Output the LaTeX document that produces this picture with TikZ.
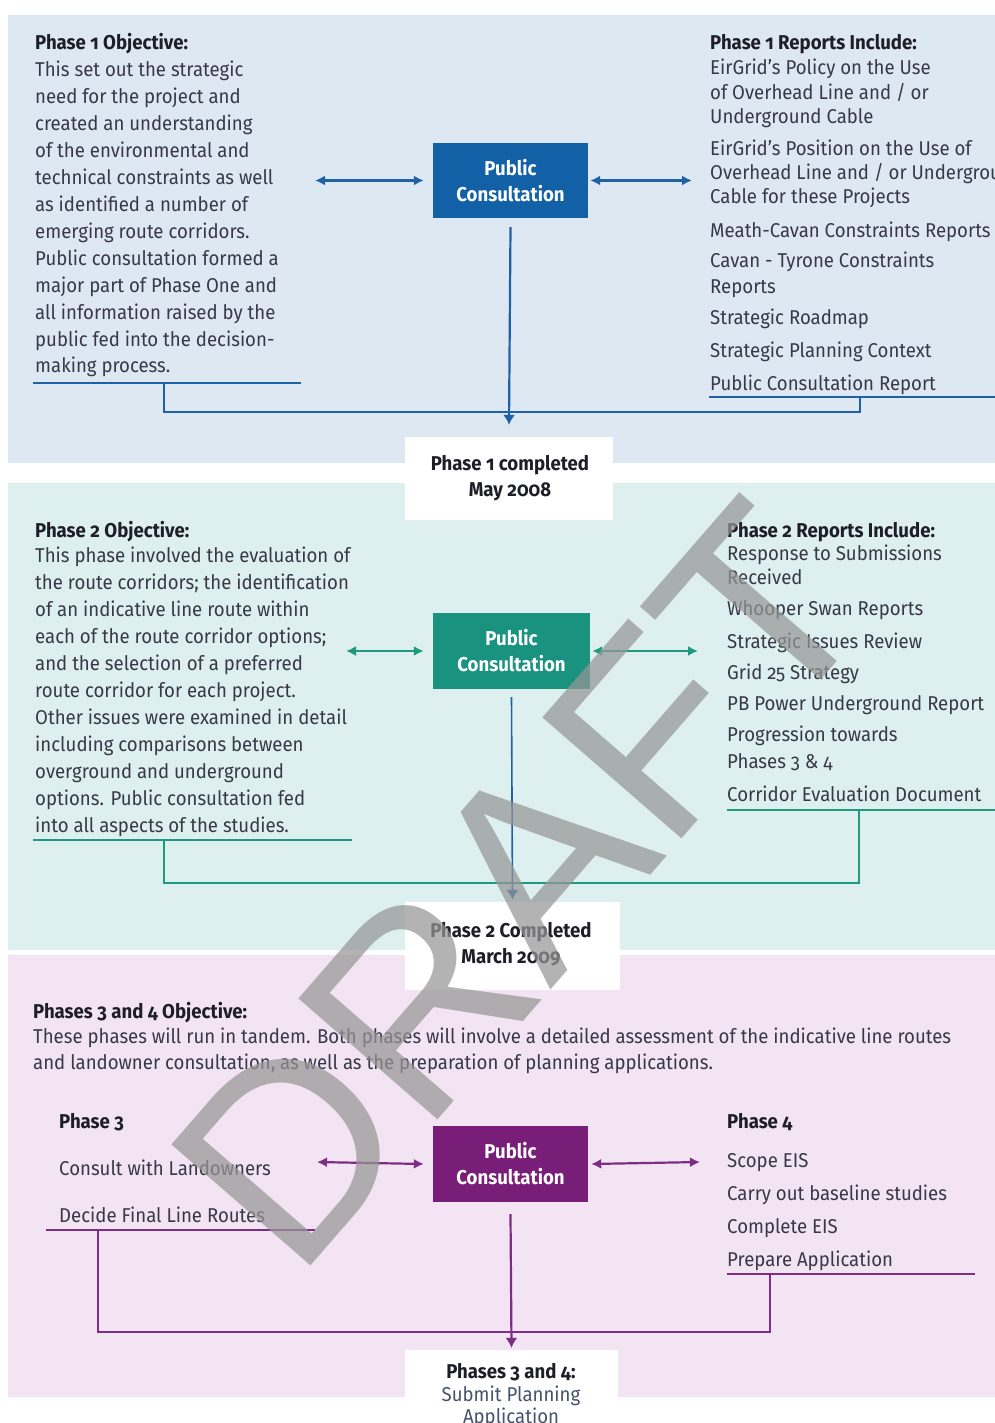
\documentclass[tikz,border=0pt]{standalone}
\usepackage{fontspec}
\setmainfont{Fira Sans}[Numbers=OldStyle, FakeStretch=0.93]
\newfontfamily\wmfont{Liberation Sans}
\usetikzlibrary{arrows.meta}
\definecolor{bgA}{RGB}{222,232,243}
\definecolor{bgB}{RGB}{221,239,238}
\definecolor{bgC}{RGB}{242,228,242}
\definecolor{boxA}{RGB}{18,96,166}
\definecolor{boxB}{RGB}{26,146,128}
\definecolor{boxC}{RGB}{120,30,120}
\definecolor{lnA}{RGB}{30,98,165}
\definecolor{lnB}{RGB}{30,154,128}
\definecolor{lnC}{RGB}{126,44,132}
\definecolor{bodytxt}{RGB}{56,56,72}
\definecolor{headtxt}{RGB}{30,30,40}
\definecolor{subtxt}{RGB}{70,82,110}
\definecolor{wmgray}{RGB}{150,150,150}
\begin{document}
\begin{tikzpicture}[x=1pt,y=-1pt,
  body/.style={inner sep=0pt, anchor=base west, text=bodytxt, font=\fontsize{20}{24}\selectfont},
  head/.style={inner sep=0pt, anchor=base west, text=headtxt, font=\fontsize{20}{24}\selectfont\bfseries},
  ctr/.style={inner sep=0pt, anchor=base, text=headtxt, font=\fontsize{20}{24}\selectfont\bfseries},
  pcbox/.style={inner sep=0pt, minimum width=155pt, minimum height=75pt, text=white, font=\fontsize{20}{26}\selectfont\bfseries, align=center},
  donebox/.style={inner sep=0pt, fill=white, draw=none},
  lnw/.style={line width=2.2pt},
  dbl/.style={lnw, {Latex[length=10pt,width=10pt]}-{Latex[length=10pt,width=10pt]}},
  down/.style={lnw, -{Latex[length=10pt,width=12pt]}}
]
\useasboundingbox (0,0) rectangle (995,1423);
\clip (0,0) rectangle (995,1423);
% backgrounds
\fill[white] (0,0) rectangle (995,1423);
\fill[bgA] (8,15) rectangle (995,463);
\fill[bgB] (8,483) rectangle (995,950);
\fill[bgC] (8,955) rectangle (995,1397);
% completed boxes
\node[donebox, minimum width=208pt, minimum height=83pt] (c1) at (509,478.5) {};
\node[donebox, minimum width=215pt, minimum height=88pt] (c2) at (512.5,946) {};
\node[donebox, minimum width=213pt, minimum height=80pt] (c3) at (511.5,1390) {};
% public consultation boxes
\node[pcbox, fill=boxA] (pc1) at (510.5,180.5) {Public\\Consultation};
\node[pcbox, fill=boxB, minimum width=157pt, minimum height=76pt] (pc2) at (511.5,651) {Public\\Consultation};
\node[pcbox, fill=boxC, minimum height=76pt] (pc3) at (510.5,1164) {Public\\Consultation};

% ---------- Section 1 ----------
\node[head] (h1l) at (35,50) {Phase 1 Objective:};
\foreach \t [count=\i] in {This set out the strategic, need for the project and, created an understanding, of the environmental and, technical constraints as well, as identified a number of, emerging route corridors., Public consultation formed a, major part of Phase One and, all information raised by the, public fed into the decision-, making process.}
  \node[body] (s1l\i) at (35,{77+26.9*(\i-1)}) {\t};
\node[head] (h1r) at (710,50) {Phase 1 Reports Include:};
\node[body] (r1a) at (710,75) {EirGrid's Policy on the Use};
\node[body] (r1b) at (710,100) {of Overhead Line and / or};
\node[body] (r1c) at (710,124) {Underground Cable};
\node[body] (r1d) at (710,156) {EirGrid's Position on the Use of};
\node[body] (r1e) at (710,180) {Overhead Line and / or Underground};
\node[body] (r1f) at (710,204) {Cable for these Projects};
\node[body] (r1g) at (710,237) {Meath-Cavan Constraints Reports};
\node[body] (r1h) at (710,268) {Cavan - Tyrone Constraints};
\node[body] (r1i) at (710,293) {Reports};
\node[body] (r1j) at (710,324) {Strategic Roadmap};
\node[body] (r1k) at (710,357) {Strategic Planning Context};
\node[body] (r1l) at (710,390) {Public Consultation Report};

\coordinate (a1l) at (315,180.5);
\coordinate (a1r) at (692,180.5);
\draw[dbl, lnA] (a1l) -- ([xshift=-9pt]pc1.west);
\draw[dbl, lnA] ([xshift=2pt]pc1.east) -- (a1r);
\coordinate (u1a) at (33,383); \coordinate (u1b) at (301,383); \coordinate (u1s) at (164,383);
\coordinate (u1r) at (860,397); \coordinate (u1h) at (860,412);
\coordinate (u2a) at (709,397); \coordinate (u2b) at (1000,397);
\draw[lnw, lnA] (u1a) -- (u1b);
\draw[lnw, lnA] (u2a) -- (u2b);
\draw[lnw, lnA] (u1s) |- (u1h) -- (u1r);
\draw[down, lnA] ([yshift=-9pt]pc1.south) -- ([yshift=12pt]c1.north);
\node[ctr] (d1a) at (510,470) {Phase 1 completed};
\node[ctr] (d1b) at (510,496) {May 2008};

% ---------- Section 2 ----------
\node[head] (h2l) at (35,537) {Phase 2 Objective:};
\foreach \t [count=\i] in {This phase involved the evaluation of, the route corridors; the identification, of an indicative line route within, each of the route corridor options;, and the selection of a preferred, route corridor for each project., Other issues were examined in detail, including comparisons between, overground and underground, options. Public consultation fed, into all aspects of the studies.}
  \node[body] (s2l\i) at (35,{562+27*(\i-1)}) {\t};
\node[head] (h2r) at (727,537) {Phase 2 Reports Include:};
\node[body] (r2a) at (727,560) {Response to Submissions};
\node[body] (r2b) at (727,584) {Received};
\node[body] (r2c) at (727,615) {Whooper Swan Reports};
\node[body] (r2d) at (727,648) {Strategic Issues Review};
\node[body] (r2e) at (727,679) {Grid 25 Strategy};
\node[body] (r2f) at (727,710) {PB Power Underground Report};
\node[body] (r2g) at (727,741) {Progression towards};
\node[body] (r2h) at (727,768) {Phases 3 \& 4};
\node[body] (r2i) at (727,801) {Corridor Evaluation Document};

\coordinate (a2l) at (346,651);
\coordinate (a2r) at (698,651);
\draw[dbl, lnB] (a2l) -- ([xshift=-9pt]pc2.west);
\draw[dbl, lnB] ([xshift=2pt]pc2.east) -- (a2r);
\coordinate (v1a) at (33,840); \coordinate (v1b) at (352,840); \coordinate (v1s) at (164,840);
\coordinate (v1r) at (859,810); \coordinate (v1h) at (859,883);
\coordinate (v2a) at (727,810); \coordinate (v2b) at (1000,810);
\draw[lnw, lnB] (v1a) -- (v1b);
\draw[lnw, lnB] (v2a) -- (v2b);
\draw[lnw, lnB] (v1s) |- (v1h) -- (v1r);
\draw[down, lnA, line width=1.6pt] ([yshift=-8pt]pc2.south) -- ([yshift=2pt]c2.north);
\node[ctr] (d2a) at (511,937) {Phase 2 Completed};
\node[ctr] (d2b) at (511,963) {March 2009};

% ---------- Section 3 ----------
\node[head] (h3) at (33,1018) {Phases 3 and 4 Objective:};
\node[body] (p3a) at (33,1043) {These phases will run in tandem. Both phases will involve a detailed assessment of the indicative line routes};
\node[body] (p3b) at (33,1069) {and landowner consultation, as well as the preparation of planning applications.};
\node[head] (h3l) at (59,1128) {Phase 3};
\node[body] (l3a) at (59,1175) {Consult with Landowners};
\node[body] (l3b) at (59,1222) {Decide Final Line Routes};
\node[head] (h3r) at (727,1128) {Phase 4};
\node[body] (r3a) at (727,1167) {Scope EIS};
\node[body] (r3b) at (727,1200) {Carry out baseline studies};
\node[body] (r3c) at (727,1233) {Complete EIS};
\node[body] (r3d) at (727,1266) {Prepare Application};

\coordinate (a3l) at (317,1162);
\coordinate (a3r) at (700,1162);
\draw[dbl, lnC] (a3l) -- ([xshift=-9pt]pc3.west);
\draw[dbl, lnC] ([xshift=3pt]pc3.east) -- (a3r);
\coordinate (w1a) at (46,1230); \coordinate (w1b) at (315,1230); \coordinate (w1s) at (98,1230);
\coordinate (w1r) at (770,1274); \coordinate (w1h) at (770,1332);
\coordinate (w2a) at (727,1274); \coordinate (w2b) at (975,1274);
\draw[lnw, lnC] (w1a) -- (w1b);
\draw[lnw, lnC] (w2a) -- (w2b);
\draw[lnw, lnC] (w1s) |- (w1h) -- (w1r);
\draw[down, lnC] ([yshift=-12pt]pc3.south) -- ([yshift=2pt]c3.north);
\node[ctr] (d3a) at (511,1378) {Phases 3 and 4:};
\node[ctr, text=subtxt, font=\fontsize{20}{24}\selectfont] (d3b) at (511,1401) {Submit Planning};
\node[ctr, text=subtxt, font=\fontsize{20}{24}\selectfont] (d3c) at (511,1423) {Application};

% watermark
\node[rotate=49, text=wmgray, opacity=0.72, inner sep=0pt, font=\wmfont\fontsize{268}{268}\selectfont] (wm) at (520,885) {DRAFT};
\end{tikzpicture}
\end{document}
